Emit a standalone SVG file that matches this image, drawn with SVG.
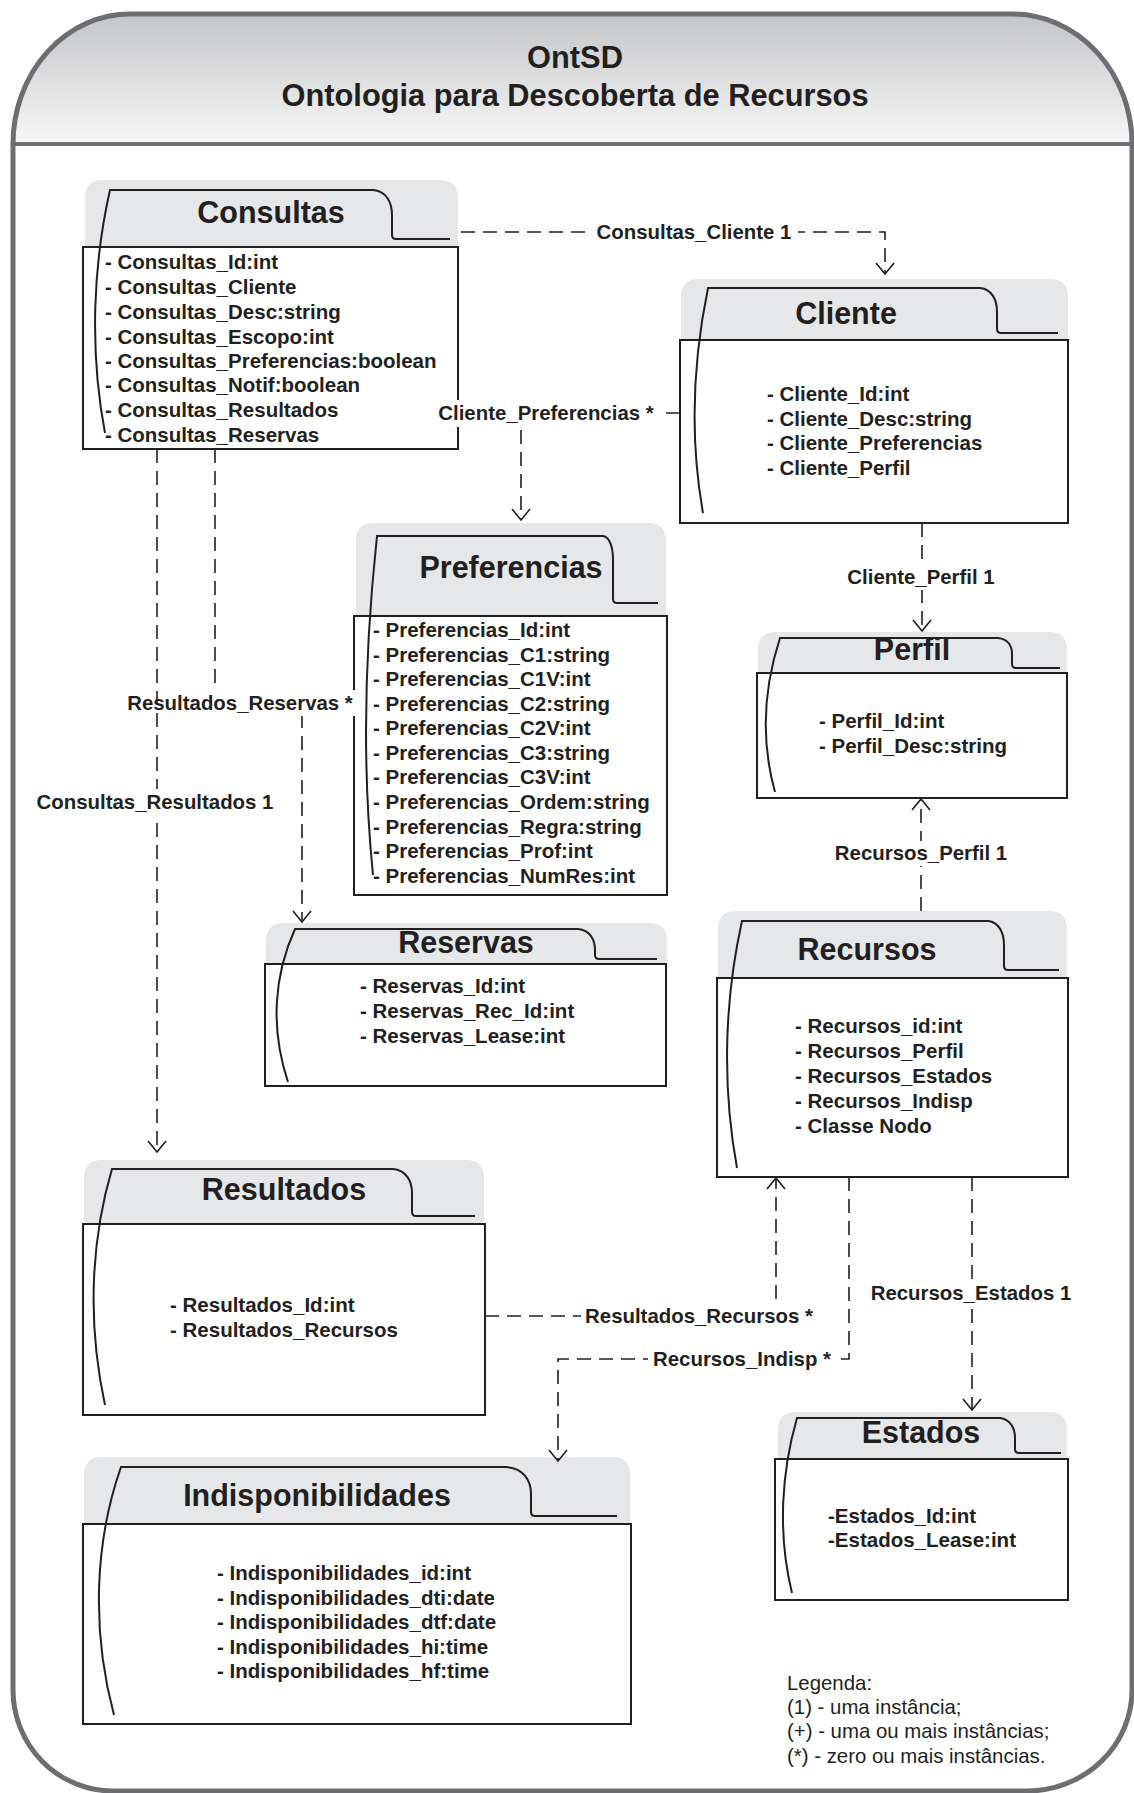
<svg xmlns="http://www.w3.org/2000/svg" width="1134" height="1793" viewBox="0 0 1134 1793">
<style>
text{font-family:"Liberation Sans",Arial,Helvetica,sans-serif;fill:#231f20}
.ttl{font-size:30.5px;font-weight:bold;text-anchor:middle}
.main{font-size:30.8px;font-weight:bold;text-anchor:middle}
.at{font-size:20.5px;font-weight:bold}
.lb{font-size:20.4px;font-weight:bold;text-anchor:middle}
.lg{font-size:20.4px}
.head{fill:#e6e7e8}
.body{fill:#fff;stroke:#231f20;stroke-width:2}
.tab{fill:none;stroke:#231f20;stroke-width:2}
.conn{fill:none;stroke:#231f20;stroke-width:1.6;stroke-dasharray:14 8}
.bg{fill:#fff}
</style>
<defs>
<linearGradient id="hg" x1="0" y1="0" x2="0" y2="1">
<stop offset="0" stop-color="#c4c5c7"/>
<stop offset="1" stop-color="#f7f7f7"/>
</linearGradient>
<marker id="arr" markerUnits="userSpaceOnUse" viewBox="0 0 24 24" markerWidth="24" markerHeight="24" refX="12" refY="12" orient="auto">
<path d="M1,3 L12,12 L1,21" fill="none" stroke="#231f20" stroke-width="1.6" stroke-dasharray="none"/>
</marker>
</defs>

<g id="frame">
<path d="M13,1690 L13,144 A117,130 0 0 1 130,14 L1012,14 A120,130 0 0 1 1132,144 L1132,1690 A105,101 0 0 1 1027,1791 L113,1791 A100,101 0 0 1 13,1690 Z" fill="#fff"/>
<path d="M13,144 A117,130 0 0 1 130,14 L1012,14 A120,130 0 0 1 1132,144 Z" fill="url(#hg)"/>
<line x1="13" y1="144" x2="1132" y2="144" stroke="#6d6e71" stroke-width="4"/>
<path d="M13,1690 L13,144 A117,130 0 0 1 130,14 L1012,14 A120,130 0 0 1 1132,144 L1132,1690 A105,101 0 0 1 1027,1791 L113,1791 A100,101 0 0 1 13,1690 Z" fill="none" stroke="#6d6e71" stroke-width="5"/>
<text class="main" x="575" y="68">OntSD</text>
<text class="main" x="575" y="106">Ontologia para Descoberta de Recursos</text>
</g>

<g id="consultas">
<path class="head" d="M85,247 V198 Q85,180 103,180 H440 Q458,180 458,198 V247 Z"/>
<rect class="body" x="83" y="247" width="375" height="202"/>
<path class="tab" d="M105,433 C89,348 93.5,263 110,190 H373 C386,191 392,202 392,215 V235 Q392,239 396,239 H450"/>
<text class="ttl" x="271" y="223">Consultas</text>
<text class="at" x="105" y="269">- Consultas_Id:int</text>
<text class="at" x="105" y="294">- Consultas_Cliente</text>
<text class="at" x="105" y="319">- Consultas_Desc:string</text>
<text class="at" x="105" y="344">- Consultas_Escopo:int</text>
<text class="at" x="105" y="368">- Consultas_Preferencias:boolean</text>
<text class="at" x="105" y="392">- Consultas_Notif:boolean</text>
<text class="at" x="105" y="417">- Consultas_Resultados</text>
<text class="at" x="105" y="442">- Consultas_Reservas</text>
</g>

<g id="cliente">
<path class="head" d="M681,340 V297 Q681,279 699,279 H1050 Q1068,279 1068,297 V340 Z"/>
<rect class="body" x="680" y="340" width="388" height="183"/>
<path class="tab" d="M703,513 C689,434 694,356 708,288 H980 C992,289 997,300 997,312 V329 Q997,333 1001,333 H1058"/>
<text class="ttl" x="846" y="324">Cliente</text>
<text class="at" x="767" y="401">- Cliente_Id:int</text>
<text class="at" x="767" y="426">- Cliente_Desc:string</text>
<text class="at" x="767" y="450">- Cliente_Preferencias</text>
<text class="at" x="767" y="475">- Cliente_Perfil</text>
</g>

<g id="preferencias">
<path class="head" d="M356,616 V541 Q356,523 374,523 H648 Q666,523 666,541 V616 Z"/>
<rect class="body" x="354" y="616" width="313" height="279"/>
<path class="tab" d="M373,875 C361,756 366,638 377,536 H603 C610,537 613,548 613,560 V599 Q613,603 617,603 H658"/>
<text class="ttl" x="511" y="578">Preferencias</text>
<text class="at" x="373" y="637">- Preferencias_Id:int</text>
<text class="at" x="373" y="662">- Preferencias_C1:string</text>
<text class="at" x="373" y="686">- Preferencias_C1V:int</text>
<text class="at" x="373" y="711">- Preferencias_C2:string</text>
<text class="at" x="373" y="735">- Preferencias_C2V:int</text>
<text class="at" x="373" y="760">- Preferencias_C3:string</text>
<text class="at" x="373" y="784">- Preferencias_C3V:int</text>
<text class="at" x="373" y="809">- Preferencias_Ordem:string</text>
<text class="at" x="373" y="834">- Preferencias_Regra:string</text>
<text class="at" x="373" y="858">- Preferencias_Prof:int</text>
<text class="at" x="373" y="883">- Preferencias_NumRes:int</text>
</g>

<g id="perfil">
<path class="head" d="M758,673 V650 Q758,632 776,632 H1049 Q1067,632 1067,650 V673 Z"/>
<rect class="body" x="757" y="673" width="310" height="125"/>
<path class="tab" d="M775,792 C760,738 765,684 780,638 H998 C1008,639 1012,646 1012,654 V664 Q1012,668 1016,668 H1060"/>
<text class="ttl" x="912" y="660">Perfil</text>
<text class="at" x="819" y="728">- Perfil_Id:int</text>
<text class="at" x="819" y="753">- Perfil_Desc:string</text>
</g>

<g id="recursos">
<path class="head" d="M718,978 V929 Q718,911 736,911 H1049 Q1067,911 1067,929 V978 Z"/>
<rect class="body" x="717" y="978" width="351" height="199"/>
<path class="tab" d="M737,1168 C721,1081 725.5,995 742,921 H988 C999,922 1004,933 1004,945 V966 Q1004,970 1008,970 H1059"/>
<text class="ttl" x="867" y="960">Recursos</text>
<text class="at" x="795" y="1033">- Recursos_id:int</text>
<text class="at" x="795" y="1058">- Recursos_Perfil</text>
<text class="at" x="795" y="1083">- Recursos_Estados</text>
<text class="at" x="795" y="1108">- Recursos_Indisp</text>
<text class="at" x="795" y="1133">- Classe Nodo</text>
</g>

<g id="reservas">
<path class="head" d="M266,964 V941 Q266,923 284,923 H649 Q667,923 667,941 V964 Z"/>
<rect class="body" x="265" y="964" width="401" height="122"/>
<path class="tab" d="M288,1082 C270,1028 274,975 295,929 H578 C590,930 595,940 595,950 V955 Q595,959 599,959 H657"/>
<text class="ttl" x="466" y="953">Reservas</text>
<text class="at" x="360" y="993">- Reservas_Id:int</text>
<text class="at" x="360" y="1018">- Reservas_Rec_Id:int</text>
<text class="at" x="360" y="1043">- Reservas_Lease:int</text>
</g>

<g id="resultados">
<path class="head" d="M84,1224 V1178 Q84,1160 102,1160 H466 Q484,1160 484,1178 V1224 Z"/>
<rect class="body" x="83" y="1224" width="402" height="191"/>
<path class="tab" d="M105,1405 C87,1322 91,1240 112,1169 H393 C406,1170 412,1181 412,1193 V1212 Q412,1216 416,1216 H475"/>
<text class="ttl" x="284" y="1200">Resultados</text>
<text class="at" x="170" y="1312">- Resultados_Id:int</text>
<text class="at" x="170" y="1337">- Resultados_Recursos</text>
</g>

<g id="indisponibilidades">
<path class="head" d="M84,1524 V1475 Q84,1457 102,1457 H612 Q630,1457 630,1475 V1524 Z"/>
<rect class="body" x="83" y="1524" width="548" height="200"/>
<path class="tab" d="M114,1715 C91,1629 95,1541 121,1467 H506 C523,1468 531,1480 531,1494 V1512 Q531,1516 535,1516 H617"/>
<text class="ttl" x="317" y="1506">Indisponibilidades</text>
<text class="at" x="217" y="1580">- Indisponibilidades_id:int</text>
<text class="at" x="217" y="1605">- Indisponibilidades_dti:date</text>
<text class="at" x="217" y="1629">- Indisponibilidades_dtf:date</text>
<text class="at" x="217" y="1654">- Indisponibilidades_hi:time</text>
<text class="at" x="217" y="1678">- Indisponibilidades_hf:time</text>
</g>

<g id="estados">
<path class="head" d="M778,1459 V1430 Q778,1412 796,1412 H1049 Q1067,1412 1067,1430 V1459 Z"/>
<rect class="body" x="775" y="1459" width="293" height="141"/>
<path class="tab" d="M792,1593 C777,1532 782,1470 797,1418 H1000 C1010,1419 1015,1428 1015,1438 V1449 Q1015,1453 1019,1453 H1061"/>
<text class="ttl" x="921" y="1443">Estados</text>
<text class="at" x="828" y="1523">-Estados_Id:int</text>
<text class="at" x="828" y="1547">-Estados_Lease:int</text>
</g>

<g id="legenda">
<text class="lg" x="787" y="1690">Legenda:</text>
<text class="lg" x="787" y="1714">(1) - uma instância;</text>
<text class="lg" x="787" y="1738">(+) - uma ou mais instâncias;</text>
<text class="lg" x="787" y="1763">(*) - zero ou mais instâncias.</text>
</g>

<g id="connectors">
<path class="conn" d="M461,232 H885 V274" marker-end="url(#arr)"/>
<path class="conn" d="M680,413 H521 V520" marker-end="url(#arr)"/>
<path class="conn" d="M922,523 V631" marker-end="url(#arr)"/>
<path class="conn" d="M921,911 V799" marker-end="url(#arr)"/>
<path class="conn" d="M157,449 V1152" marker-end="url(#arr)"/>
<path class="conn" d="M215,449 V703 H302 V922" marker-end="url(#arr)"/>
<path class="conn" d="M485,1316 H776 V1178" marker-end="url(#arr)"/>
<path class="conn" d="M849,1177 V1359 H558 V1461" marker-end="url(#arr)"/>
<path class="conn" d="M972,1177 V1410" marker-end="url(#arr)"/>

<rect class="bg" x="591" y="220" width="207" height="24"/>
<text class="lb" x="694" y="239">Consultas_Cliente 1</text>
<rect class="bg" x="434" y="400" width="226" height="27"/>
<text class="lb" x="546" y="420">Cliente_Preferencias *</text>
<rect class="bg" x="843" y="565" width="156" height="25"/>
<text class="lb" x="921" y="584">Cliente_Perfil 1</text>
<rect class="bg" x="831" y="841" width="180" height="25"/>
<text class="lb" x="921" y="860">Recursos_Perfil 1</text>
<rect class="bg" x="33" y="789" width="246" height="26"/>
<text class="lb" x="155" y="809">Consultas_Resultados 1</text>
<rect class="bg" x="162" y="690" width="196" height="26"/>
<text class="lb" x="240" y="710">Resultados_Reservas *</text>
<rect class="bg" x="581" y="1302" width="236" height="26"/>
<text class="lb" x="699" y="1323">Resultados_Recursos *</text>
<rect class="bg" x="648" y="1346" width="190" height="26"/>
<text class="lb" x="742" y="1366">Recursos_Indisp *</text>
<rect class="bg" x="867" y="1281" width="209" height="25"/>
<text class="lb" x="971" y="1300">Recursos_Estados 1</text>
</g>
</svg>
